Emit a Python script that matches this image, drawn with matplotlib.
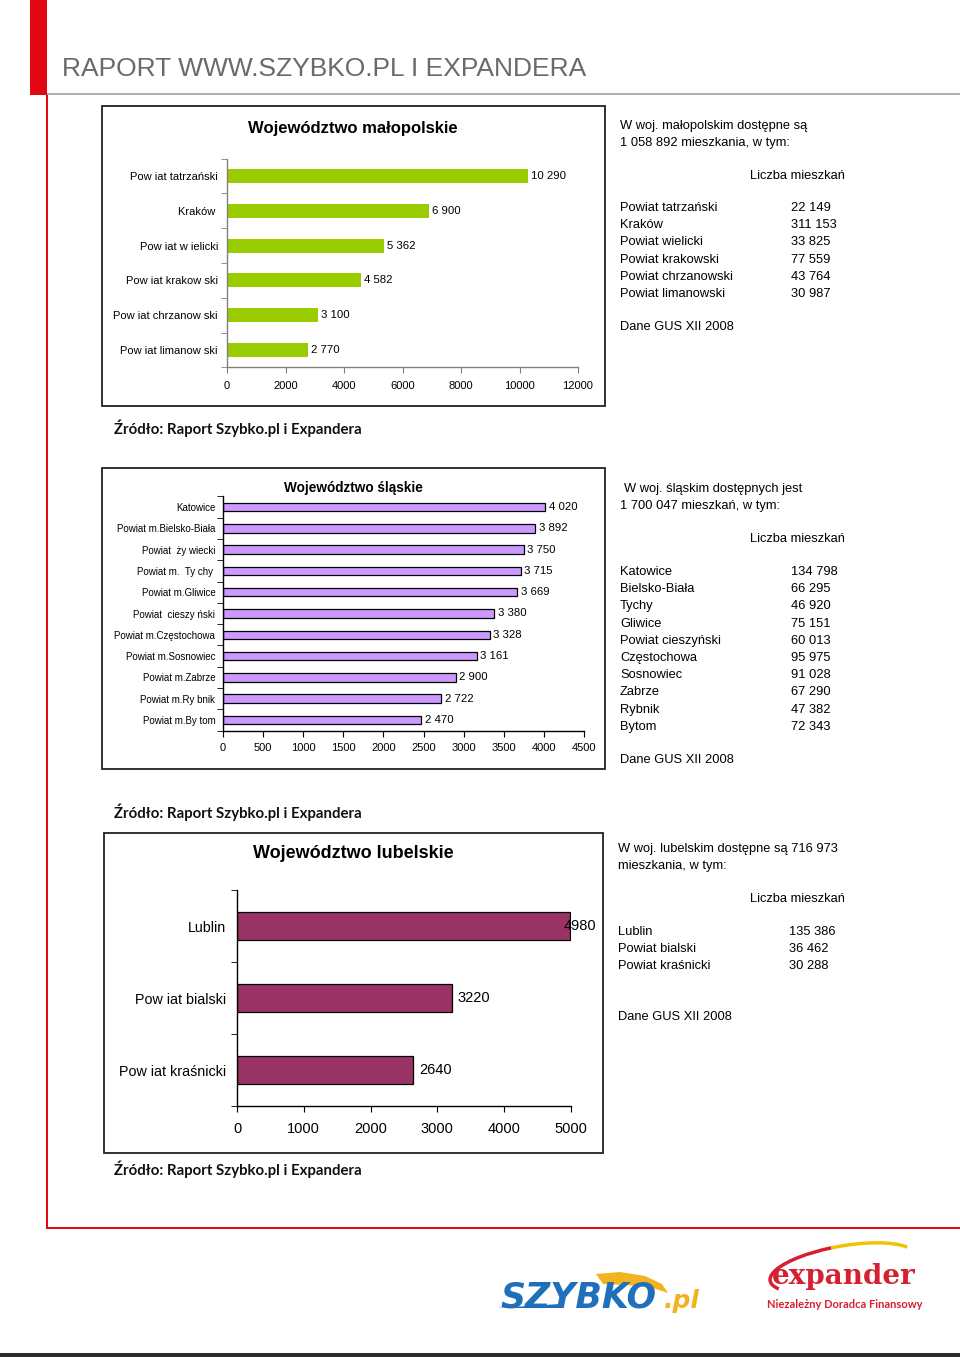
import numpy as np
import matplotlib
matplotlib.use("Agg")
import matplotlib.pyplot as plt
from matplotlib.patches import Rectangle, Polygon, Arc

plt.rcParams['font.family'] = ['Liberation Sans', 'DejaVu Sans']

# ---------------- data ----------------
mal_title = "Województwo małopolskie"
mal_cats = ["Pow iat tatrzański", "Kraków ", "Pow iat w ielicki", "Pow iat krakow ski",
            "Pow iat chrzanow ski", "Pow iat limanow ski"]
mal_vals = [10290, 6900, 5362, 4582, 3100, 2770]
mal_ticks = [0, 2000, 4000, 6000, 8000, 10000, 12000]

sl_title = "Województwo śląskie"
sl_cats = ["Katowice", "Powiat m.Bielsko-Biała", "Powiat  ży wiecki", "Powiat m.  Ty chy ",
           "Powiat m.Gliwice", "Powiat  cieszy ński", "Powiat m.Częstochowa", "Powiat m.Sosnowiec",
           "Powiat m.Zabrze", "Powiat m.Ry bnik", "Powiat m.By tom"]
sl_vals = [4020, 3892, 3750, 3715, 3669, 3380, 3328, 3161, 2900, 2722, 2470]
sl_ticks = [0, 500, 1000, 1500, 2000, 2500, 3000, 3500, 4000, 4500]

lub_title = "Województwo lubelskie"
lub_cats = ["Lublin", "Pow iat bialski", "Pow iat kraśnicki"]
lub_vals = [4980, 3220, 2640]
lub_ticks = [0, 1000, 2000, 3000, 4000, 5000]

mal_intro = ["W woj. małopolskim dostępne są", "1 058 892 mieszkania, w tym:"]
mal_tab_names = ["Powiat tatrzański", "Kraków", "Powiat wielicki", "Powiat krakowski",
                 "Powiat chrzanowski", "Powiat limanowski"]
mal_tab_vals = ["22 149", "311 153", "33 825", "77 559", "43 764", "30 987"]

sl_intro = ["W woj. śląskim dostępnych jest", "1 700 047 mieszkań, w tym:"]
sl_tab_names = ["Katowice", "Bielsko-Biała", "Tychy", "Gliwice", "Powiat cieszyński",
                "Częstochowa", "Sosnowiec", "Zabrze", "Rybnik", "Bytom"]
sl_tab_vals = ["134 798", "66 295", "46 920", "75 151", "60 013", "95 975", "91 028",
               "67 290", "47 382", "72 343"]

lub_intro = ["W woj. lubelskim dostępne są 716 973", "mieszkania, w tym:"]
lub_tab_names = ["Lublin", "Powiat bialski", "Powiat kraśnicki"]
lub_tab_vals = ["135 386", "36 462", "30 288"]

header = "RAPORT WWW.SZYBKO.PL I EXPANDERA"
source = "Źródło: Raport Szybko.pl i Expandera"
col_head = "Liczba mieszkań"
gus = "Dane GUS XII 2008"

# ---------------- layout helpers ----------------
W, H = 960, 1357
fig = plt.figure(figsize=(W / 100, H / 100), dpi=100)
fig.patch.set_facecolor('white')

# overlay in pixel coordinates for page decoration / logos
ov = fig.add_axes([0, 0, 1, 1], zorder=-5)
ov.set_xlim(0, W)
ov.set_ylim(H, 0)
ov.axis('off')


def rect(x0, y0, x1, y1, **kw):
    fig.patches.append(Rectangle((x0 / W, 1 - y1 / H), (x1 - x0) / W, (y1 - y0) / H,
                                 transform=fig.transFigure, **kw))


def txt(x, y, s, **kw):
    kw.setdefault('va', 'center')
    kw.setdefault('ha', 'left')
    return fig.text(x / W, 1 - y / H, s, **kw)


def axes_px(x0, y0, x1, y1):
    return fig.add_axes([x0 / W, 1 - y1 / H, (x1 - x0) / W, (y1 - y0) / H])


# ---------------- page decoration ----------------
rect(30, 0, 47, 95, facecolor='#E30613', edgecolor='none')
rect(46, 95, 48, 1229, facecolor='#E30613', edgecolor='none')
rect(46, 1227, 960, 1229, facecolor='#E30613', edgecolor='none')
rect(47, 93.5, 960, 94.8, facecolor='#b0b0b0', edgecolor='none')
rect(0, 1353, 960, 1357, facecolor='#2b2b2b', edgecolor='none')
txt(62, 69, header, fontsize=19, color='#6a6a6a')


def bar_chart(box, axpx, title, title_xy, title_fs, cats, vals, ticks, color, edge,
              cat_fs, tick_fs, val_fs, bar_h, ypad, xpad, val_off, spine_col):
    rect(*box, facecolor='none', edgecolor='#222222', linewidth=1.3)
    ax = axes_px(*axpx)
    n = len(cats)
    pos = np.arange(n)
    ax.barh(pos, vals, height=bar_h, color=color,
            edgecolor=edge if edge else 'none', linewidth=0.9 if edge else 0)
    ax.set_ylim(n - 0.5, -0.5)
    ax.set_xlim(ticks[0], ticks[-1])
    ax.set_xticks(ticks)
    ax.set_xticklabels([str(t) for t in ticks], fontsize=tick_fs)
    ax.set_yticks(pos)
    ax.set_yticklabels(cats, fontsize=cat_fs)
    ax.set_yticks(np.arange(-0.5, n, 1), minor=True)
    ax.tick_params(axis='y', which='major', length=0, pad=ypad)
    ax.tick_params(axis='y', which='minor', length=4, direction='out', color=spine_col)
    ax.tick_params(axis='x', length=4, direction='out', pad=xpad, color=spine_col)
    for s in ['top', 'right']:
        ax.spines[s].set_visible(False)
    for s in ['left', 'bottom']:
        ax.spines[s].set_color(spine_col)
        ax.spines[s].set_linewidth(1.0)
    ax.patch.set_alpha(0)
    for i, v in enumerate(vals):
        lab = f"{v:,}".replace(",", " ") if val_off[1] else str(v)
        off = val_off[0]
        if v > ticks[-1] * 0.97:
            off = val_off[2]
        ax.annotate(lab, (v, i), xytext=(off, 0), textcoords='offset points',
                    va='center', ha='left', fontsize=val_fs)
    txt(title_xy[0], title_xy[1], title, fontsize=title_fs, fontweight='bold', ha='center')
    return ax


# chart 1
bar_chart((102, 106, 605, 406), (227, 158.6, 578, 367.4), mal_title, (353, 128), 12,
          mal_cats, mal_vals, mal_ticks, '#99CC00', None, 8, 8, 8.2, 0.4, 6.5, 6,
          (2.5, True, 2.5), '#808080')
# chart 2
bar_chart((102, 468, 605, 769), (223, 496.4, 584, 730.6), sl_title, (353, 488), 9.8,
          sl_cats, sl_vals, sl_ticks, '#CC99FF', 'black', 7, 8, 8.2, 0.4, 5.5, 5,
          (2.5, True, 2.5), 'black')
# chart 3
bar_chart((104, 833, 603, 1153), (237, 890, 571, 1106), lub_title, (353, 854), 13,
          lub_cats, lub_vals, lub_ticks, '#993366', 'black', 10.3, 10.5, 10.5, 0.38, 7.5, 7.5,
          (4, False, -4), 'black')


# right-hand texts
def side(intro, intro_x, intro_y, head_y, names, values, row_y0, gus_y, nx, vx):
    fs = 9.3
    for k, line in enumerate(intro):
        txt(intro_x[k], intro_y + 17 * k, line, fontsize=fs)
    txt(750, head_y, col_head, fontsize=fs)
    for k, (a, b) in enumerate(zip(names, values)):
        txt(nx, row_y0 + 17.2 * k, a, fontsize=fs)
        txt(vx, row_y0 + 17.2 * k, b, fontsize=fs)
    txt(nx, gus_y, gus, fontsize=fs)


side(mal_intro, (620, 620), 126, 176, mal_tab_names, mal_tab_vals, 208, 327, 620, 791)
side(sl_intro, (624, 620), 489, 539, sl_tab_names, sl_tab_vals, 572, 760, 620, 791)
side(lub_intro, (618, 618), 849, 899, lub_tab_names, lub_tab_vals, 932, 1017, 618, 789)

for y in (428, 812, 1169):
    txt(114, y, source, fontsize=10.8, fontweight='bold', family=['Lato', 'DejaVu Sans'],
        color='#111111')

# ---------------- logos (approximate) ----------------
ov.add_patch(Polygon([(596, 1274), (620, 1272), (645, 1276), (662, 1284), (668, 1293),
                      (650, 1287), (625, 1285), (603, 1284)], closed=True,
                     facecolor='#F2B31E', edgecolor='none'))
ov.add_patch(Polygon([(497, 1308), (560, 1304), (558, 1308)], closed=True,
                     facecolor='#1F6FBA', edgecolor='none'))
txt(500, 1297, "SZYBKO", fontsize=25, fontweight='bold', style='italic', color='#1F6FBA',
    family=['DejaVu Sans'])
txt(664, 1301, ".pl", fontsize=18, fontweight='bold', style='italic', color='#F2B31E',
    family=['DejaVu Sans'])

ov.add_patch(Arc((843, 1268), 148, 44, angle=-10, theta1=172, theta2=250,
                 color='#D42030', linewidth=2.5))
ov.add_patch(Arc((843, 1268), 148, 44, angle=-10, theta1=250, theta2=352,
                 color='#F2C200', linewidth=2.5))
txt(772, 1276, "expander", fontsize=20, fontweight='bold', color='#D42030',
    family=['DejaVu Serif'])
txt(767, 1305, "Niezależny Doradca Finansowy", fontsize=8, fontweight='bold',
    color='#D42030', family=['Lato', 'DejaVu Sans'])

fig.savefig("out.png", dpi=100, facecolor='white')
